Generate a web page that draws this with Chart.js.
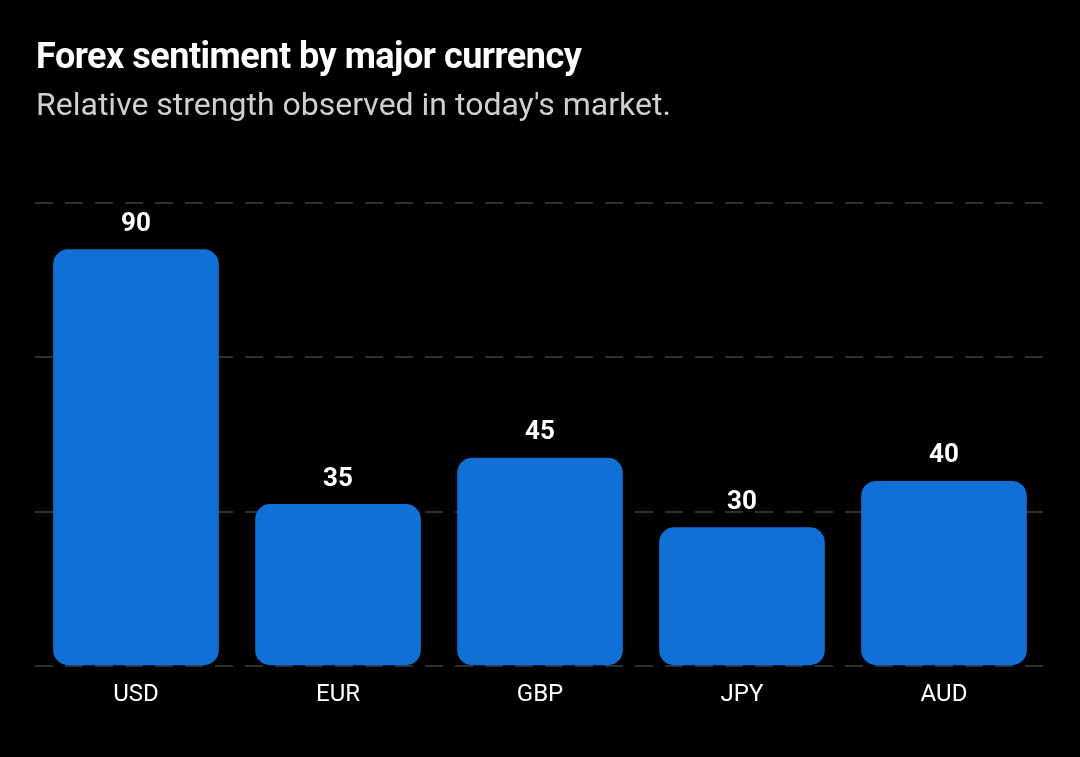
<!DOCTYPE html>
<html>
<head>
<meta charset="utf-8">
<script src="https://cdn.jsdelivr.net/npm/chart.js@4"></script>
<style>
html,body{margin:0;padding:0;background:#000;}
#wrap{position:relative;width:1080px;height:757px;overflow:hidden;}
#title{position:absolute;left:36px;top:35px;color:#fff;font:bold 36px Roboto;letter-spacing:-0.5px;margin:0;}
#sub{position:absolute;left:36px;top:85px;color:#cfcfcf;font:32px Roboto;margin:0;}
canvas{position:absolute;left:0;top:0;}
</style>
</head>
<body>
<div id="wrap">
<canvas id="chart" width="1080" height="757"></canvas>
<div id="title">Forex sentiment by major currency</div>
<div id="sub">Relative strength observed in today's market.</div>
</div>
<script>
let currencies = ["USD","EUR","GBP","JPY","AUD"]
let sentiment = [90,35,45,30,40]

// draws the value above every bar
let valueLabels = {
id:"valueLabels",
afterDatasetsDraw(chart){
let ctx = chart.ctx
let meta = chart.getDatasetMeta(0)
ctx.save()
ctx.fillStyle = "#ffffff"
ctx.font = "bold 26px Roboto"
ctx.textAlign = "center"
ctx.textBaseline = "middle"
meta.data.forEach(function(bar,i){
ctx.fillText(sentiment[i], bar.x, bar.y - 25)
})
ctx.restore()
}
}

new Chart(document.getElementById("chart").getContext("2d"),{
type:"bar",
data:{
labels:currencies,
datasets:[{
data:sentiment,
backgroundColor:"#1170d5",
borderRadius:15,
borderSkipped:false,
barPercentage:0.82,
categoryPercentage:1
}]
},
options:{
responsive:false,
animation:false,
devicePixelRatio:1,
layout:{padding:{top:203,left:35,right:35,bottom:42}},
plugins:{legend:{display:false},tooltip:{enabled:false}},
scales:{
x:{
grid:{display:false},
border:{display:false},
ticks:{color:"#ffffff",font:{family:"Roboto",size:24},padding:6}
},
y:{
min:0,
max:100,
ticks:{display:false,count:4},
border:{display:false,dash:[18,12]},
grid:{color:"#303030",lineWidth:2,drawTicks:false}
}
}
},
plugins:[valueLabels]
})
</script>
</body>
</html>
